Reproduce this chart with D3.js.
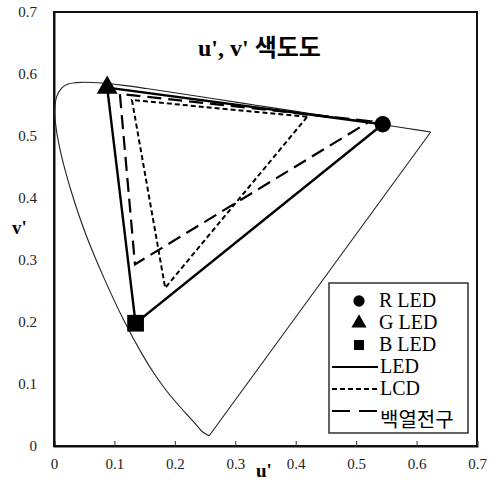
<!DOCTYPE html>
<html lang="ko">
<head>
<meta charset="utf-8">
<title>u', v' 색도도</title>
<style>
	body { margin: 0; background: #fff; }
	svg { display: block; }
	.serif, .tick text { font-family: "Liberation Serif", "Times New Roman", Times, "DejaVu Serif", serif; }
	.tick text { font-size: 15px; fill: #222; }
	.kr { font-family: "Noto Sans CJK KR", "Noto Sans", sans-serif; }
</style>
</head>
<body>
<svg id="chart" width="491" height="485"></svg>
<script src="https://d3js.org/d3.v7.min.js"></script>
<script>
// spectral locus (u', v'), 380nm -> 700nm
var locus = [
	[0.2568, 0.0166], [0.2461, 0.0226], [0.2347, 0.0350], [0.2161, 0.0549],
	[0.1877, 0.0871], [0.1690, 0.1120], [0.1441, 0.1510], [0.1147, 0.2044],
	[0.0828, 0.2708], [0.0521, 0.3427], [0.0282, 0.4117], [0.0119, 0.4698],
	[0.0035, 0.5130], [0.0014, 0.5432], [0.0046, 0.5638], [0.0123, 0.5770],
	[0.0231, 0.5837], [0.0360, 0.5861], [0.0501, 0.5868], [0.0792, 0.5856],
	[0.1127, 0.5821], [0.1531, 0.5766], [0.2026, 0.5694], [0.2623, 0.5604],
	[0.3315, 0.5501], [0.4035, 0.5393], [0.4692, 0.5296], [0.5203, 0.5219],
	[0.5830, 0.5125], [0.6234, 0.5065]
];

// gamut triangles: R, G, B
var ledGamut  = [[0.544, 0.519], [0.088, 0.578], [0.135, 0.198]];
var lcdGamut  = [[0.419, 0.531], [0.129, 0.558], [0.184, 0.255]];
var bulbGamut = [[0.523, 0.524], [0.109, 0.568], [0.134, 0.293]];

var xTicks = [0, 0.1, 0.2, 0.3, 0.4, 0.5, 0.6, 0.7];
var yTicks = [0, 0.1, 0.2, 0.3, 0.4, 0.5, 0.6, 0.7];

var markerLabels = ["R LED", "G LED", "B LED"];
var lineLabels = ["LED", "LCD", "백열전구"];

var svg = d3.select("#chart");
var margin = {top: 12, right: 14, bottom: 39, left: 54};
var W = 491, H = 485;

var x = d3.scaleLinear().domain([0, 0.7]).range([margin.left, W - margin.right]);
var y = d3.scaleLinear().domain([0, 0.7]).range([H - margin.bottom, margin.top]);

var fmt = function(d) { return d === 0 ? "0" : d3.format(".1f")(d); };

// frame
svg.append("rect")
	.attr("x", x(0)).attr("y", y(0.7))
	.attr("width", x(0.7) - x(0)).attr("height", y(0) - y(0.7))
	.attr("fill", "none").attr("stroke", "#111").attr("stroke-width", 2);

// axes
var xAxis = svg.append("g")
	.attr("transform", "translate(0," + y(0) + ")")
	.call(d3.axisBottom(x).tickValues(xTicks).tickFormat(fmt).tickSize(-5).tickPadding(12));
xAxis.attr("font-family", null);
xAxis.select(".domain").attr("stroke", "#111").attr("stroke-width", 2);
xAxis.selectAll(".tick line").attr("stroke", "#333");

var yAxis = svg.append("g")
	.attr("transform", "translate(" + x(0) + ",0)")
	.call(d3.axisLeft(y).tickValues(yTicks).tickFormat(fmt).tickSize(0).tickPadding(17));
yAxis.attr("font-family", null);
yAxis.select(".domain").attr("stroke", "#111").attr("stroke-width", 2);

// axis titles
svg.append("text").attr("class", "serif").attr("x", 256).attr("y", y(0) + 31)
	.attr("font-weight", "bold").attr("font-size", 19)
	.text("u'");
svg.append("text").attr("class", "serif").attr("x", 12).attr("y", 234)
	.attr("font-weight", "bold").attr("font-size", 19)
	.text("v'");

// title
var title = svg.append("text").attr("x", 198).attr("y", 56).attr("font-size", 24).attr("font-weight", "bold");
title.append("tspan").attr("class", "serif").text("u', v' ");
title.append("tspan").attr("class", "kr").text("색도도");

// spectral locus + purple line
var locusLine = d3.line().x(function(d) { return x(d[0]); }).y(function(d) { return y(d[1]); }).curve(d3.curveCatmullRom.alpha(0.5));
svg.append("path").datum(locus).attr("d", locusLine)
	.attr("fill", "none").attr("stroke", "#222").attr("stroke-width", 1.1);
svg.append("path").datum([locus[locus.length - 1], locus[0]]).attr("d", d3.line().x(function(d) { return x(d[0]); }).y(function(d) { return y(d[1]); }))
	.attr("fill", "none").attr("stroke", "#222").attr("stroke-width", 1.1);

// gamuts
var tri = d3.line().x(function(d) { return x(d[0]); }).y(function(d) { return y(d[1]); }).curve(d3.curveLinearClosed);
var styles = [
	{data: bulbGamut, dash: "14,7", width: 2.2},
	{data: lcdGamut, dash: "5,3", width: 2},
	{data: ledGamut, dash: null, width: 2.4}
];
styles.forEach(function(s) {
	svg.append("path").datum(s.data).attr("d", tri)
		.attr("fill", "none").attr("stroke", "#000")
		.attr("stroke-width", s.width)
		.attr("stroke-dasharray", s.dash);
});

// LED markers
var shapes = [d3.symbolCircle, d3.symbolTriangle, d3.symbolSquare];
var sizes = [210, 190, 280];
ledGamut.forEach(function(p, i) {
	svg.append("path")
		.attr("d", d3.symbol().type(shapes[i]).size(sizes[i])())
		.attr("transform", "translate(" + x(p[0]) + "," + y(p[1]) + ")")
		.attr("fill", "#000");
});

// legend
var lg = svg.append("g");
lg.append("rect").attr("x", 329).attr("y", 283).attr("width", 139).attr("height", 150)
	.attr("fill", "#fff").attr("stroke", "#222").attr("stroke-width", 1.4);

var rowY = [301, 323, 345, 367, 389, 411];
markerLabels.forEach(function(t, i) {
	lg.append("path")
		.attr("d", d3.symbol().type(shapes[i]).size(100)())
		.attr("transform", "translate(359," + rowY[i] + ")")
		.attr("fill", "#000");
	lg.append("text").attr("class", "serif").attr("x", 379).attr("y", rowY[i] + 6)
		.attr("font-size", 20).text(t);
});
var legendDash = [null, "5,3", "18,9"];
lineLabels.forEach(function(t, i) {
	var yy = rowY[i + 3];
	lg.append("line").attr("x1", 332).attr("x2", 378).attr("y1", yy).attr("y2", yy)
		.attr("stroke", "#000").attr("stroke-width", 2).attr("stroke-dasharray", legendDash[i]);
	lg.append("text").attr("class", i === 2 ? "kr" : "serif")
		.attr("x", 380).attr("y", i === 2 ? yy + 16 : yy + 6)
		.attr("font-size", 20).text(t);
});
</script>
</body>
</html>
